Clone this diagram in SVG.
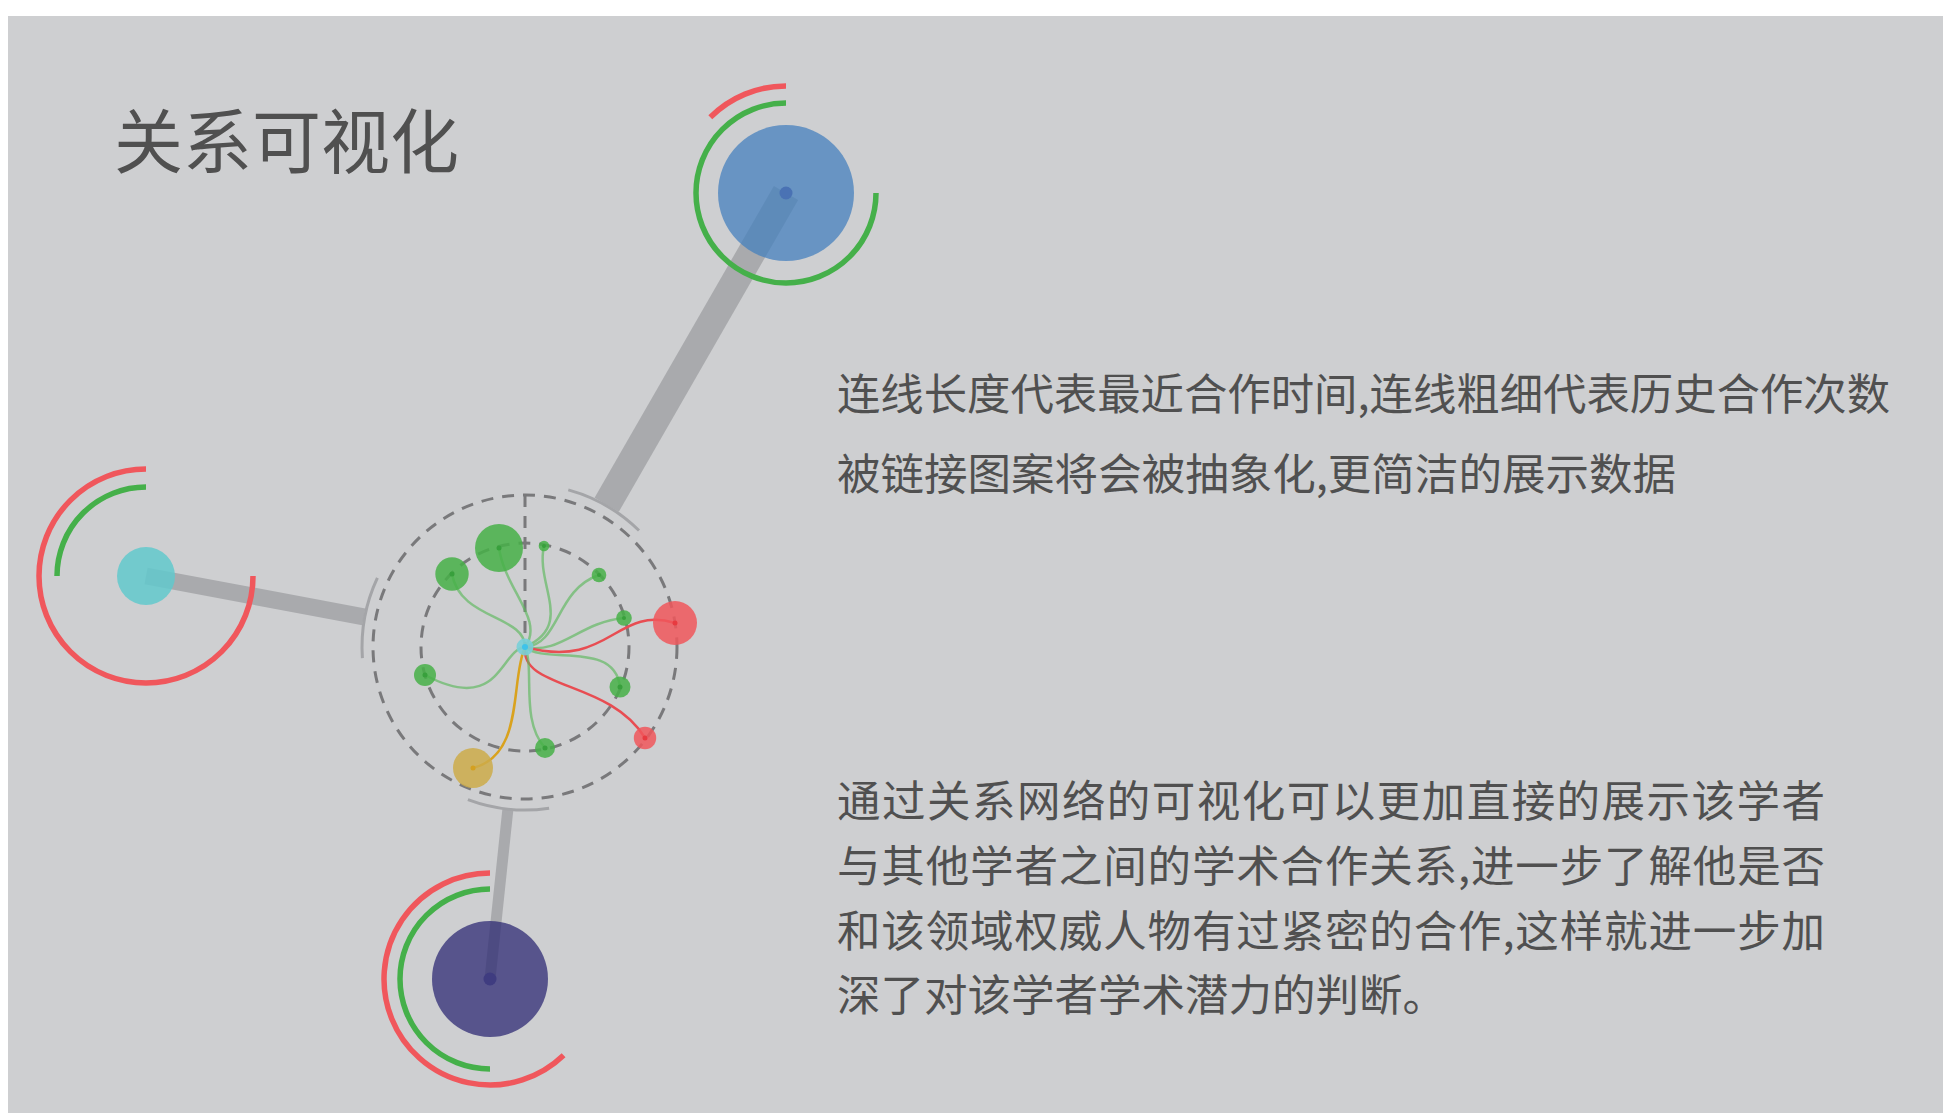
<svg xmlns="http://www.w3.org/2000/svg" width="1950" height="1113" viewBox="0 0 1950 1113">
<style>
.txt{font-family:"Noto Sans CJK SC","Noto Sans",sans-serif;fill:#505050}
.conn{stroke:#a9aaad;fill:none;stroke-linecap:butt}
.mark{stroke:#a4a5a8;stroke-width:3;fill:none}
.dash{stroke:#79797b;stroke-width:3;fill:none;stroke-dasharray:12 9}
.ring{fill:none;stroke-width:5.5}
.g{stroke:#45b04a}
.r{stroke:#f0575c}
.cg{stroke:#5cb85c;stroke-opacity:0.65;stroke-width:2.5;fill:none}
.cr{stroke:#e84d52;stroke-width:2.5;fill:none}
.cy{stroke:#d9a21e;stroke-width:2.5;fill:none}
.ng{fill:#46b048;fill-opacity:0.85}
.nr{fill:#f0575c;fill-opacity:0.85}
.dg{fill:#38a03c}
.dr{fill:#e83a40}
</style>
<rect x="8" y="16" width="1935" height="1097" fill="#cecfd1"/>
<text class="txt" x="114" y="168" font-size="70" fill="#525252" textLength="345" lengthAdjust="spacingAndGlyphs">关系可视化</text>

<g id="connectors">
  <line class="conn" x1="786" y1="193" x2="606.7" y2="504.8" stroke-width="28"/>
  <line class="conn" x1="146" y1="576" x2="363.8" y2="616.8" stroke-width="17"/>
  <line class="conn" x1="490" y1="979" x2="507.8" y2="810.1" stroke-width="11"/>
  <path class="mark" d="M568.3,489.9 A163,163 0 0 1 639,530.5"/>
  <path class="mark" d="M362.4,658.1 A163,163 0 0 1 377.4,577.9"/>
  <path class="mark" d="M549.1,808.2 A163,163 0 0 1 467.9,799.7"/>
</g>

<g id="node-blue">
  <path class="ring g" d="M876,193 A90,90 0 1 1 786,103"/>
  <path class="ring r" d="M710.3,117.3 A107,107 0 0 1 786,86"/>
  <circle cx="786" cy="193" r="68" fill="#4680bd" fill-opacity="0.75"/>
  <circle cx="786" cy="193" r="6.5" fill="#4a72b4"/>
</g>

<g id="node-cyan">
  <path class="ring r" d="M253,576 A107,107 0 1 1 146,469"/>
  <path class="ring g" d="M57,576 A89,89 0 0 1 146,487"/>
  <circle cx="146" cy="576" r="29" fill="#62c9cd" fill-opacity="0.85"/>
</g>

<g id="node-purple">
  <path class="ring g" d="M490,1069 A90,90 0 0 1 490,889"/>
  <path class="ring r" d="M563.6,1055.3 A106,106 0 1 1 490,873"/>
  <circle cx="490" cy="979" r="58" fill="#2f2b74" fill-opacity="0.75"/>
  <circle cx="490" cy="979" r="6.5" fill="#3f3c80"/>
</g>

<g id="network">
  <circle class="dash" cx="525" cy="647" r="152"/>
  <circle class="dash" cx="525" cy="647" r="104"/>
  <line class="dash" x1="525" y1="495" x2="525" y2="647"/>
  <g id="links">
    <path class="cg" d="M525,647 C545,620 505,590 499,548"/>
    <path class="cg" d="M525,647 C525,615 460,620 452,574"/>
    <path class="cg" d="M525,647 C575,625 535,585 544,546"/>
    <path class="cg" d="M525,647 C560,645 555,590 599,575"/>
    <path class="cg" d="M525,647 C560,655 580,622 624,618"/>
    <path class="cr" d="M525,647 C610,670 615,605 675,623"/>
    <path class="cg" d="M525,647 C545,665 615,640 620,687"/>
    <path class="cr" d="M525,647 C520,690 610,680 645,738"/>
    <path class="cg" d="M525,647 C535,670 520,720 545,748"/>
    <path class="cy" d="M525,647 C510,680 525,755 473,768"/>
    <path class="cg" d="M525,647 C500,650 500,715 425,675"/>
  </g>
  <g id="n1"><circle class="ng" cx="499" cy="548" r="24"/><circle class="dg" cx="499" cy="548" r="2.5"/></g>
  <g id="n2"><circle class="ng" cx="452" cy="574" r="16.7"/><circle class="dg" cx="452" cy="574" r="2.5"/></g>
  <g id="n3"><circle class="ng" cx="544" cy="546" r="5.3"/><circle class="dg" cx="544" cy="546" r="2"/></g>
  <g id="n4"><circle class="ng" cx="599" cy="575" r="7.3"/><circle class="dg" cx="599" cy="575" r="2"/></g>
  <g id="n5"><circle class="ng" cx="624" cy="618" r="7.8"/><circle class="dg" cx="624" cy="618" r="2"/></g>
  <g id="n6"><circle class="nr" cx="675" cy="623" r="22"/><circle class="dr" cx="675" cy="623" r="2.5"/></g>
  <g id="n7"><circle class="ng" cx="620" cy="687" r="10.5"/><circle class="dg" cx="620" cy="687" r="2.5"/></g>
  <g id="n8"><circle class="nr" cx="645" cy="738" r="11.2"/><circle class="dr" cx="645" cy="738" r="2.5"/></g>
  <g id="n9"><circle class="ng" cx="545" cy="748" r="10"/><circle class="dg" cx="545" cy="748" r="2.5"/></g>
  <g id="n10"><circle cx="473" cy="768" r="20" fill="#cdac4a" fill-opacity="0.85"/><circle cx="473" cy="768" r="2.5" fill="#d4a020"/></g>
  <g id="n11"><circle class="ng" cx="425" cy="675" r="11"/><circle class="dg" cx="425" cy="675" r="2.5"/></g>
  <g id="center"><circle cx="525" cy="647" r="8.5" fill="#79cfd8" fill-opacity="0.9"/><circle cx="525" cy="647" r="3" fill="#3ec3ea"/></g>
</g>

<g id="text">
  <text class="txt" x="837" y="410" font-size="43.5" textLength="1053" lengthAdjust="spacingAndGlyphs">连线长度代表最近合作时间,连线粗细代表历史合作次数</text>
  <text class="txt" x="837" y="490" font-size="43.5" textLength="839" lengthAdjust="spacingAndGlyphs">被链接图案将会被抽象化,更简洁的展示数据</text>
  <text class="txt" x="837" y="817" font-size="43.5" textLength="988" lengthAdjust="spacing">通过关系网络的可视化可以更加直接的展示该学者</text>
  <text class="txt" x="837" y="882" font-size="43.5" textLength="988" lengthAdjust="spacing">与其他学者之间的学术合作关系,进一步了解他是否</text>
  <text class="txt" x="837" y="947" font-size="43.5" textLength="988" lengthAdjust="spacing">和该领域权威人物有过紧密的合作,这样就进一步加</text>
  <text class="txt" x="837" y="1011" font-size="43.5">深了对该学者学术潜力的判断。</text>
</g>
</svg>
